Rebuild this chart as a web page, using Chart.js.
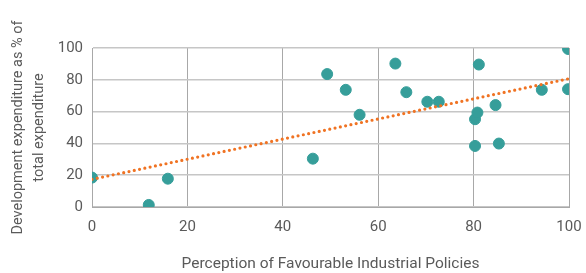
<!DOCTYPE html>
<html>
<head>
<meta charset="utf-8">
<script src="https://cdn.jsdelivr.net/npm/chart.js@4/dist/chart.umd.min.js"></script>
<style>
  html, body { margin: 0; padding: 0; background: #ffffff; overflow: hidden; }
  #wrap { width: 586px; height: 273px; position: relative; }
</style>
</head>
<body>
<div id="wrap"><canvas id="c"></canvas></div>
<script>
// Perception of Favourable Industrial Policies (x) vs Development expenditure as % of total expenditure (y)
const policyPerception = [0, 11.9, 15.9, 46.3, 49.3, 53.2, 56.1, 63.6, 65.9, 70.3, 72.7, 80.3, 80.3, 80.8, 81.1, 84.6, 85.3, 94.3, 99.8, 99.8];
const devExpenditure   = [18.5, 1.3, 17.8, 30.4, 83.6, 73.7, 58.0, 90.2, 72.2, 66.2, 66.2, 38.4, 55.2, 59.4, 89.6, 64.1, 39.9, 73.7, 99.4, 74.1];
// Linear trendline endpoints
const trendX = [0, 100];
const trendY = [17.4, 80.7];
const axisTicks = [0, 20, 40, 60, 80, 100];
const xTitle = 'Perception of Favourable Industrial Policies';
const yTitle = ['Development expenditure as % of', 'total expenditure'];

const points = policyPerception.map((x, i) => ({ x: x, y: devExpenditure[i] }));
const trend = trendX.map((x, i) => ({ x: x, y: trendY[i] }));

const fontFamily = 'Roboto, "Liberation Sans", sans-serif';
const textColor = '#5a5a5a';

new Chart(document.getElementById('c'), {
  type: 'scatter',
  data: {
    datasets: [
      {
        label: 'Data',
        data: points,
        backgroundColor: '#369e9a',
        borderColor: '#369e9a',
        pointRadius: 5.5,
        pointHoverRadius: 5.5,
        order: 2
      },
      {
        label: 'Trend',
        type: 'line',
        data: trend,
        showLine: true,
        borderColor: '#f07323',
        borderWidth: 3.2,
        borderDash: [0, 5.4],
        borderCapStyle: 'round',
        pointRadius: 0,
        fill: false,
        order: 1
      }
    ]
  },
  options: {
    responsive: true,
    maintainAspectRatio: false,
    animation: false,
    events: [],
    layout: { padding: { left: 0, right: 17, top: 48, bottom: 0 } },
    plugins: { legend: { display: false }, tooltip: { enabled: false } },
    scales: {
      x: {
        type: 'linear',
        min: 0, max: 100,
        afterBuildTicks: (s) => { s.ticks = axisTicks.map(v => ({ value: v })); },
        afterFit: (s) => { s.height = 66; s.paddingRight = 0; s.paddingLeft = 0; },
        ticks: { color: textColor, font: { family: fontFamily, size: 15 }, padding: 11, maxRotation: 0 },
        grid: { color: '#a8a8a8', lineWidth: 1, drawTicks: false },
        border: { color: '#a8a8a8', width: 1 },
        title: { display: true, text: xTitle, color: textColor, font: { family: fontFamily, size: 15.5 }, padding: { top: 0, bottom: 0 } }
      },
      y: {
        type: 'linear',
        min: 0, max: 100,
        afterBuildTicks: (s) => { s.ticks = axisTicks.map(v => ({ value: v })); },
        afterFit: (s) => { s.width = 92; },
        ticks: { color: textColor, font: { family: fontFamily, size: 15 }, padding: 9 },
        grid: { color: '#c6c6c6', lineWidth: 1.5, drawTicks: false },
        border: { color: '#a8a8a8', width: 1 },
        title: { display: true, text: yTitle, color: textColor, font: { family: fontFamily, size: 14.5, lineHeight: 1.45 }, padding: { top: 7.5, bottom: 0 } }
      }
    }
  }
});
</script>
</body>
</html>
